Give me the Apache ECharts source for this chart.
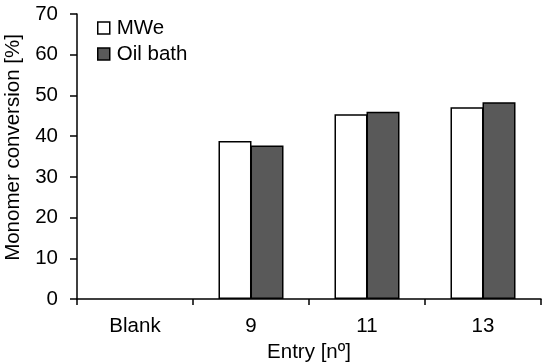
<!DOCTYPE html>
<html><head><meta charset="utf-8">
<script src="https://cdn.jsdelivr.net/npm/echarts@6/dist/echarts.min.js"></script>
<style>html,body{margin:0;padding:0;background:#fff}#c{width:550px;height:364px}</style>
</head><body><div id="c"></div>
<script>
const categories = ['Blank', '9', '11', '13'];
const mweValues = [null, 38.8, 45.4, 47.1];
const oilValues = [null, 37.7, 46.0, 48.3];
const yTicks = [0, 10, 20, 30, 40, 50, 60, 70];

const chart = echarts.init(document.getElementById('c'), null, {renderer: 'canvas'});
const font = 'Liberation Sans, Arial, sans-serif';
const fs = 20.5;
chart.setOption({
  animation: false,
  backgroundColor: '#fff',
  grid: {left: 77, right: 9, top: 14, bottom: 65, containLabel: false, outerBoundsMode: 'none'},
  legend: {
    orient: 'vertical', left: 92, top: 12, itemWidth: 12, itemHeight: 12, itemGap: 4, icon: 'rect',
    textStyle: {fontFamily: font, fontSize: fs, color: '#000', lineHeight: 22, padding: [0,0,0,2]},
    data: [
      {name: 'MWe', itemStyle: {color: '#fff', borderColor: '#000', borderWidth: 1.5}},
      {name: 'Oil bath', itemStyle: {color: '#595959', borderColor: '#000', borderWidth: 1.5}}
    ]
  },
  xAxis: {
    type: 'category', data: categories, boundaryGap: true,
    name: 'Entry [nº]', nameLocation: 'middle', nameGap: 38,
    nameTextStyle: {fontFamily: font, fontSize: fs, color: '#000'},
    axisLine: {lineStyle: {color: '#000', width: 1.5}},
    axisTick: {show: true, alignWithLabel: false, length: 6, lineStyle: {color: '#000', width: 1.5}},
    axisLabel: {fontFamily: font, fontSize: fs, color: '#000', margin: 17}
  },
  yAxis: {
    type: 'value', min: yTicks[0], max: yTicks[yTicks.length-1], interval: 10,
    name: 'Monomer conversion [%]', nameLocation: 'middle', nameGap: 53,
    nameTextStyle: {fontFamily: font, fontSize: fs, color: '#000', padding: [0, 0, 0, 18]},
    splitLine: {show: false},
    axisLine: {show: true, lineStyle: {color: '#000', width: 1.5}},
    axisTick: {show: true, length: 7, lineStyle: {color: '#000', width: 1.5}},
    axisLabel: {fontFamily: font, fontSize: fs, color: '#000', margin: 19}
  },
  series: [
    {name: 'MWe', type: 'bar', data: mweValues, barWidth: 33, barGap: '-3%',
     itemStyle: {color: '#fff', borderColor: '#000', borderWidth: 1.5, borderRadius: 0}},
    {name: 'Oil bath', type: 'bar', data: oilValues, barWidth: 33, barGap: '-3%',
     itemStyle: {color: '#595959', borderColor: '#000', borderWidth: 1.5, borderRadius: 0}}
  ]
});
</script></body></html>
